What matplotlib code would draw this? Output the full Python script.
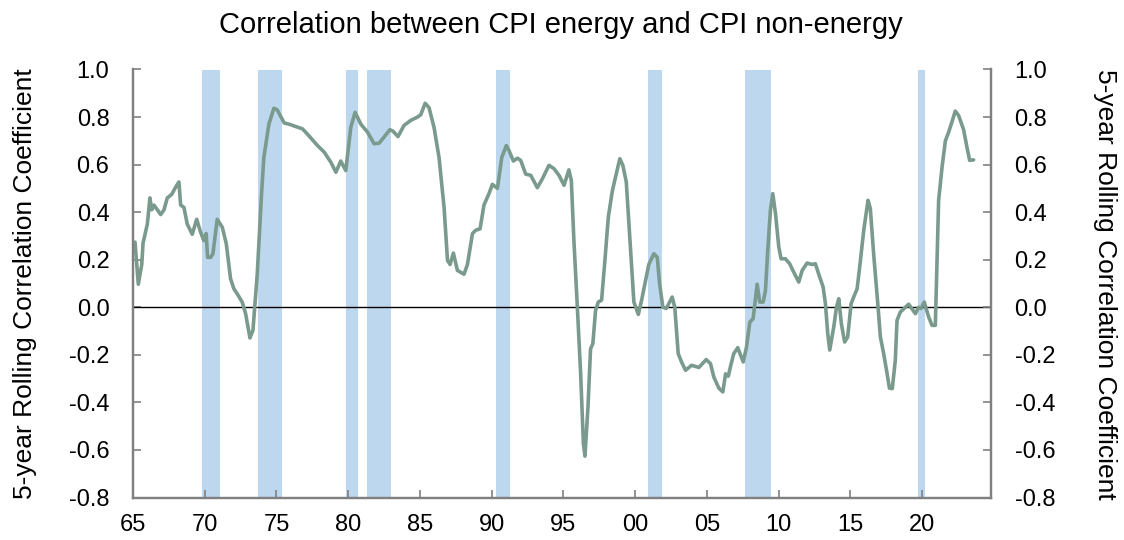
import matplotlib
matplotlib.use("Agg")
import matplotlib.pyplot as plt
import numpy as np

plt.rcParams['font.family'] = ['Liberation Sans', 'DejaVu Sans']

# ---- data ----
years = [1965.14, 1965.37, 1965.61, 1965.70, 1966.00, 1966.18, 1966.30, 1966.46, 1966.93, 1967.16,
         1967.39, 1967.70, 1967.97, 1968.20, 1968.32, 1968.55, 1968.78, 1969.13, 1969.44, 1969.71,
         1969.94, 1970.10, 1970.20, 1970.41, 1970.57, 1970.87, 1971.22, 1971.50, 1971.80, 1972.03,
         1972.26, 1972.61, 1972.85, 1973.15, 1973.36, 1973.66, 1973.96, 1974.12, 1974.47, 1974.82,
         1975.05, 1975.54, 1975.88, 1976.35, 1976.82, 1977.28, 1977.86, 1978.32, 1978.79, 1979.14,
         1979.48, 1979.83, 1980.18, 1980.48, 1980.88, 1981.34, 1981.80, 1982.15, 1982.50, 1982.90,
         1983.13, 1983.47, 1983.89, 1984.36, 1984.83, 1985.06, 1985.36, 1985.63, 1985.98, 1986.33,
         1986.68, 1986.92, 1987.10, 1987.33, 1987.61, 1988.07, 1988.31, 1988.66, 1988.89, 1989.19,
         1989.46, 1989.81, 1990.05, 1990.40, 1990.70, 1991.02, 1991.20, 1991.51, 1991.79, 1992.02,
         1992.37, 1992.72, 1993.18, 1993.53, 1993.99, 1994.34, 1994.69, 1995.04, 1995.38, 1995.55,
         1995.73, 1995.97, 1996.20, 1996.39, 1996.50, 1996.71, 1996.89, 1997.05, 1997.24, 1997.43,
         1997.66, 1997.89, 1998.13, 1998.41, 1998.68, 1998.93, 1999.14, 1999.38, 1999.61, 1999.91,
         2000.22, 2000.45, 2000.68, 2000.95, 2001.30, 2001.54, 2001.70, 2001.93, 2002.17, 2002.58,
         2002.76, 2003.00, 2003.23, 2003.51, 2003.93, 2004.44, 2004.95, 2005.25, 2005.48, 2005.83,
         2006.11, 2006.30, 2006.49, 2006.64, 2006.87, 2007.15, 2007.53, 2007.76, 2007.99, 2008.22,
         2008.34, 2008.50, 2008.68, 2008.92, 2009.08, 2009.24, 2009.43, 2009.59, 2009.78, 2010.01,
         2010.17, 2010.47, 2010.77, 2011.05, 2011.40, 2011.64, 2011.98, 2012.33, 2012.56, 2012.79,
         2013.10, 2013.26, 2013.42, 2013.56, 2013.84, 2014.03, 2014.19, 2014.37, 2014.60, 2014.81,
         2015.05, 2015.23, 2015.47, 2015.70, 2015.93, 2016.23, 2016.39, 2016.62, 2016.93, 2017.09,
         2017.32, 2017.56, 2017.72, 2017.92, 2018.13, 2018.25, 2018.48, 2018.83, 2019.06, 2019.53,
         2019.76, 2019.92, 2020.15, 2020.45, 2020.69, 2020.92, 2021.04, 2021.15, 2021.39, 2021.62,
         2021.85, 2022.08, 2022.31, 2022.54, 2022.89, 2023.12, 2023.31, 2023.59]

corr = [0.274, 0.097, 0.18, 0.27, 0.35, 0.46, 0.41, 0.43, 0.39, 0.41,
        0.46, 0.475, 0.505, 0.527, 0.43, 0.42, 0.35, 0.307, 0.37, 0.316,
        0.28, 0.31, 0.21, 0.21, 0.225, 0.37, 0.337, 0.268, 0.12, 0.078,
        0.057, 0.022, -0.027, -0.129, -0.097, 0.14, 0.478, 0.63, 0.77, 0.837,
        0.83, 0.775, 0.77, 0.76, 0.75, 0.72, 0.68, 0.653, 0.61, 0.568,
        0.615, 0.575, 0.757, 0.82, 0.77, 0.737, 0.688, 0.69, 0.716, 0.747,
        0.74, 0.718, 0.765, 0.786, 0.80, 0.81, 0.858, 0.84, 0.757, 0.63,
        0.42, 0.197, 0.18, 0.228, 0.155, 0.139, 0.18, 0.31, 0.324, 0.33,
        0.43, 0.478, 0.517, 0.50, 0.63, 0.68, 0.66, 0.615, 0.627, 0.618,
        0.56, 0.555, 0.503, 0.54, 0.597, 0.583, 0.555, 0.513, 0.578, 0.534,
        0.28, 0.0, -0.28, -0.573, -0.626, -0.42, -0.175, -0.153, -0.013, 0.022,
        0.03, 0.197, 0.38, 0.49, 0.56, 0.625, 0.597, 0.527, 0.31, 0.022,
        -0.03, 0.03, 0.10, 0.18, 0.225, 0.21, 0.10, 0.0, -0.005, 0.043,
        0.0, -0.195, -0.23, -0.265, -0.244, -0.253, -0.22, -0.237, -0.293, -0.34,
        -0.356, -0.28, -0.29, -0.25, -0.195, -0.17, -0.23, -0.167, -0.062, -0.048,
        0.015, 0.097, 0.022, 0.022, 0.07, 0.24, 0.41, 0.478, 0.394, 0.253,
        0.204, 0.204, 0.183, 0.148, 0.106, 0.155, 0.186, 0.18, 0.183, 0.14,
        0.085, 0.015, -0.11, -0.18, -0.083, 0.0, 0.036, -0.069, -0.146, -0.125,
        0.015, 0.043, 0.078, 0.197, 0.324, 0.45, 0.415, 0.225, 0.0, -0.125,
        -0.195, -0.28, -0.34, -0.342, -0.223, -0.055, -0.02, 0.0, 0.013, -0.027,
        0.0, -0.005, 0.022, -0.04, -0.076, -0.076, 0.197, 0.45, 0.59, 0.70,
        0.737, 0.78, 0.825, 0.807, 0.747, 0.674, 0.618, 0.62]

rec_start = [1969.80, 1973.68, 1979.83, 1981.30, 1990.31, 2000.86, 2007.62, 2019.69]
rec_end = [1971.06, 1975.36, 1980.71, 1982.97, 1991.27, 2001.89, 2009.45, 2020.22]

xtick_years = [1965, 1970, 1975, 1980, 1985, 1990, 1995, 2000, 2005, 2010, 2015, 2020]
xtick_labels = ['65', '70', '75', '80', '85', '90', '95', '00', '05', '10', '15', '20']
ytick_vals = [-0.8, -0.6, -0.4, -0.2, 0.0, 0.2, 0.4, 0.6, 0.8, 1.0]

title = "Correlation between CPI energy and CPI non-energy"
ylabel = "5-year Rolling Correlation Coefficient"

# ---- figure ----
fig = plt.figure(figsize=(11.24, 5.40), dpi=100)
ax = fig.add_axes([133 / 1124, 1 - 497.5 / 540, (991 - 133) / 1124, (497.5 - 69.5) / 540])

for s, e in zip(rec_start, rec_end):
    ax.axvspan(s, e, color='#bdd7ee', lw=0, zorder=1)

ax.axhline(0, color='black', lw=1.0, zorder=2)
ax.plot(years, corr, color='#7a9a8e', lw=2.6, zorder=3,
        solid_joinstyle='round', solid_capstyle='round')

ax.set_xlim(1965, 2024.8)
ax.set_ylim(-0.8, 1.0)
ax.set_xticks(xtick_years)
ax.set_xticklabels(xtick_labels)
ax.set_yticks(ytick_vals)
ax.set_yticklabels([f"{v:.1f}" for v in ytick_vals])

grey = '#808080'
for side in ['left', 'right', 'bottom']:
    ax.spines[side].set_color(grey)
    ax.spines[side].set_linewidth(1.6)
ax.spines['top'].set_visible(False)

ax.tick_params(axis='both', direction='in', color=grey, width=1.2, length=6,
               labelsize=17)
ax.tick_params(axis='x', pad=12)
ax.tick_params(axis='y', pad=17)

ax2 = ax.twinx()
ax2.set_ylim(-0.8, 1.0)
ax2.set_yticks(ytick_vals)
ax2.set_yticklabels([f"{v:.1f}" for v in ytick_vals])
ax2.tick_params(axis='y', direction='in', color=grey, width=1.2, length=6,
                labelsize=17, pad=17)
for side in ['left', 'right', 'bottom']:
    ax2.spines[side].set_color(grey)
    ax2.spines[side].set_linewidth(1.6)
ax2.spines['top'].set_visible(False)

fig.text(25 / 1124, 1 - 284 / 540, ylabel, fontsize=19, rotation=90, ha='center', va='center')
fig.text(1105 / 1124, 1 - 284 / 540, ylabel, fontsize=19, rotation=270, ha='center', va='center')

fig.text(560.5 / 1124, 1 - 25 / 540, title, fontsize=21, ha='center', va='center')

fig.savefig("out.png", dpi=100)
